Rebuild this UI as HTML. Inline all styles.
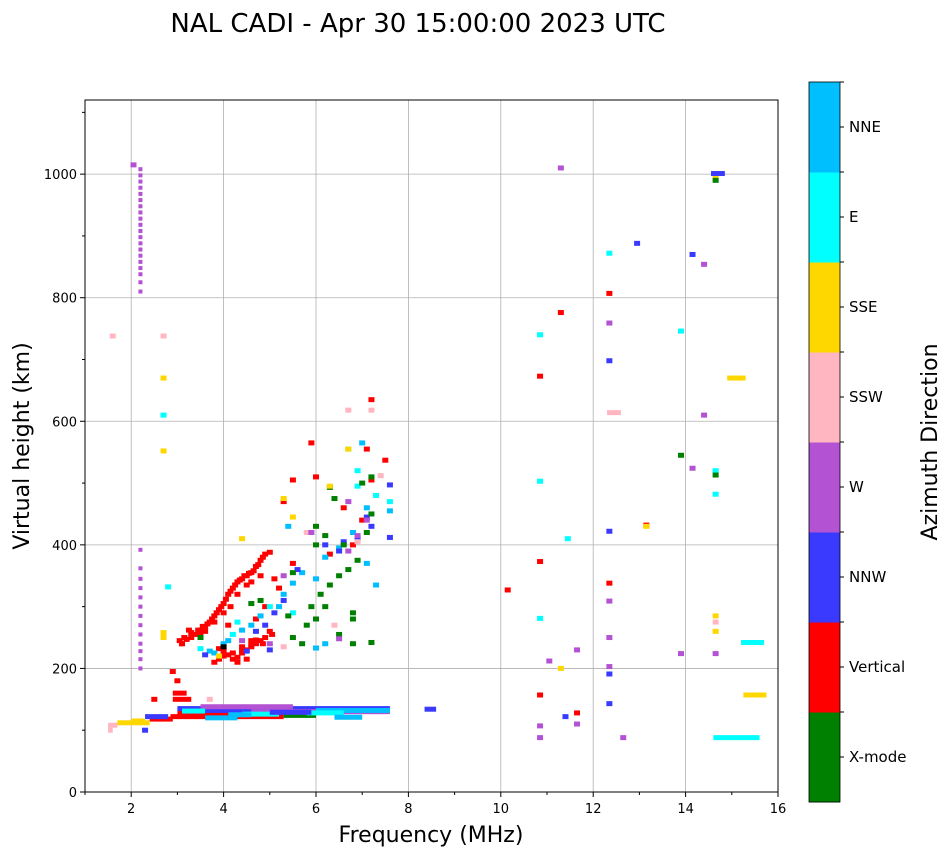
<!DOCTYPE html>
<html><head><meta charset="utf-8"><style>
body{margin:0;background:#fff;font-family:"Liberation Sans","DejaVu Sans",sans-serif}
svg text{font-family:"DejaVu Sans","Liberation Sans",sans-serif}
</style></head><body>
<svg id="chart" width="951" height="856" xmlns="http://www.w3.org/2000/svg">
<text x="418" y="32" font-size="26" text-anchor="middle">NAL CADI - Apr 30 15:00:00 2023 UTC</text>
<g id="grid"></g>
<g id="marks"></g>
<rect x="85" y="100" width="693" height="692" fill="none" stroke="#000" stroke-width="1"/>
<g id="axes"></g>
<text x="431" y="842" font-size="22" text-anchor="middle">Frequency (MHz)</text>
<text transform="translate(29,446) rotate(-90)" font-size="22" text-anchor="middle">Virtual height (km)</text>
<g id="cbar"></g>
<text transform="translate(937,442) rotate(-90)" font-size="22" text-anchor="middle">Azimuth Direction</text>
</svg>
<script>
const categories=["X-mode","Vertical","NNW","W","SSW","SSE","E","NNE"];
const catColors=["#008000","#ff0000","#3a3aff","#b452d4","#ffb6c1","#ffd700","#00ffff","#00bfff"];
const xTicks=[2,4,6,8,10,12,14,16];
const yTicks=[0,200,400,600,800,1000];
// segments: start freq, end freq, height, category
const segStart=[2.85,3.0,3.2,3.0,4.6,5.3,3.5,2.9,2.9,2.4,2.3,1.7,1.5,1.5,2.0,6.0,5.8,8.35,14.6,15.2,15.25,14.55,14.9,12.3,3.6,4.4,5.0,6.4,3.1,4.1];
const segEnd=[5.3,5.0,4.8,7.6,7.6,6.0,5.5,3.3,3.2,2.9,2.8,2.4,1.7,1.6,2.3,7.6,6.6,8.6,15.6,15.7,15.75,14.85,15.3,12.6,4.3,5.2,5.9,7.0,3.6,4.6];
const segHeight=[122,127,132,135,130,124,138,150,160,118,122,112,108,100,115,132,128,134,88,242,157,1001,670,614,120,126,129,121,131,125];
const segCat=[1,1,2,2,3,0,3,1,1,1,2,5,4,4,5,7,6,2,6,6,5,2,5,4,7,6,2,7,6,7];
// isolated points: freq, height, category
const ptFreq=[11.3,10.85,10.85,11.3,10.85,10.85,10.15,10.85,10.85,10.85,10.85,11.05,11.3,11.4,11.45,11.65,11.65,11.65,
12.35,12.35,12.35,12.35,12.35,12.35,12.35,12.35,12.35,12.35,12.35,12.65,12.95,13.15,13.15,13.9,13.9,13.9,14.15,14.15,14.4,14.4,14.65,14.65,14.65,14.65,14.65,14.65,14.65,14.65,14.65,
2.05,1.6,2.7,2.7,2.7,2.7,2.7,2.7,2.8,
3.05,3.15,3.3,3.45,3.6,3.7,3.8,3.9,4.0,4.1,4.2,4.3,4.4,4.5,4.6,4.7,4.8,4.9,5.0,3.3,3.6,3.8,4.0,4.3,4.6,4.8,3.8,3.9,4.0,4.2,4.4,4.5,4.6,4.7,4.8,4.9,5.0,4.3,4.5,3.1,3.5,4.1,4.6,4.4,4.2,5.2,5.5,5.5,6.0,5.9,6.6,6.8,7.0,7.2,7.5,7.1,7.2,5.3,6.3,4.7,4.9,5.1,2.9,3.0,2.5,
3.1,3.2,3.4,3.5,3.65,3.75,3.85,3.95,4.05,4.15,4.25,4.35,4.45,4.55,4.65,4.75,4.85,3.9,4.0,4.1,4.3,4.4,4.6,4.7,3.25,3.55,4.15,4.5,4.85,5.05,5.2,
3.5,3.7,4.0,4.2,4.4,4.6,4.8,5.0,5.3,5.5,5.7,6.0,6.2,6.5,6.8,7.1,7.3,7.6,7.6,7.0,6.9,6.2,6.0,4.3,3.8,4.1,5.5,5.4,5.8,6.7,7.3,7.1,6.9,2.3,
4.7,4.9,5.1,5.3,5.6,6.2,6.6,7.1,7.2,7.6,7.6,5.0,4.5,3.6,6.5,6.9,3.5,
5.5,5.7,5.8,5.9,6.0,6.1,6.3,6.5,6.7,6.9,7.1,7.2,7.0,6.8,6.8,6.5,7.2,6.8,6.4,6.3,7.2,6.6,5.5,5.4,6.0,6.2,6.2,6.0,4.6,4.8,5.3,
6.7,6.9,7.1,6.7,5.0,4.4,6.5,5.9,6.4,
6.7,7.2,7.4,6.9,5.3,3.7,5.5,
6.7,4.4,5.3,6.3,3.9,4.0];
const ptHeight=[1010,740,673,776,503,373,327,281,157,107,88,212,200,122,410,230,110,128,
872,807,759,698,422,338,309,250,203,191,143,88,888,432,430,746,545,224,870,524,854,610,993,990,520,513,482,285,275,260,224,
1015,738,738,670,610,552,258,250,332,
245,250,258,262,268,275,285,295,305,320,330,340,345,350,355,365,375,385,388,250,260,275,290,320,340,350,210,215,220,215,225,230,235,240,245,250,260,210,215,240,255,270,245,235,225,330,370,505,510,565,460,400,440,505,537,555,635,470,385,280,300,345,195,180,150,
240,247,255,262,272,280,290,300,312,325,335,343,350,354,358,368,380,232,228,222,218,230,238,246,262,268,300,335,240,255,300,
232,228,240,255,262,270,285,300,320,338,355,345,380,395,420,460,480,455,470,565,520,240,233,275,225,245,290,430,420,555,335,370,495,100,
260,270,290,310,360,400,405,445,430,412,497,230,228,222,390,410,250,
250,240,270,300,280,320,335,350,360,375,420,450,500,290,280,255,242,240,475,493,510,400,355,285,430,415,300,400,305,310,350,
390,415,440,470,240,245,248,420,270,
618,618,512,405,235,150,445,
555,410,475,495,220,235];
const ptCat=[3,6,1,1,6,1,1,6,1,3,3,3,5,2,6,3,3,1,
6,1,3,2,2,1,3,3,3,2,2,3,2,1,5,6,0,3,2,3,3,3,5,0,6,0,6,5,4,5,3,
3,4,4,5,6,5,5,5,6,
1,1,1,1,1,1,1,1,1,1,1,1,1,1,1,1,1,1,1,1,1,1,1,1,1,1,1,1,1,1,1,1,1,1,1,1,1,1,1,1,1,1,1,1,1,1,1,1,1,1,1,1,1,1,1,1,1,1,1,1,1,1,1,1,
1,1,1,1,1,1,1,1,1,1,1,1,1,1,1,1,1,1,1,1,1,1,1,1,1,1,1,1,1,1,1,
7,6,7,7,6,7,7,7,6,7,7,7,7,7,7,7,7,6,7,6,7,6,7,7,6,7,7,6,7,4,6,7,7,6,
2,2,2,2,2,2,2,2,2,2,2,2,2,2,2,2,2,
0,0,0,0,0,0,0,0,0,0,0,0,0,0,0,0,0,0,0,0,0,0,0,0,0,0,0,0,0,0,0,
3,3,3,3,3,3,3,3,3,
4,4,4,4,4,4,4,
5,5,5,5,5,5];
// W column at 2.2 MHz
const colHeights=[1008,998,988,978,968,958,948,938,928,918,908,898,888,878,868,858,848,838,825,810,392,362,345,330,315,300,285,270,255,240,228,215,200];
const colFreq=2.2;

const NS="http://www.w3.org/2000/svg";
const X0=85,X1=778,Y0=792,Y1=100,FMIN=1,FMAX=16,HMAX=1120;
const xs=f=>X0+(f-FMIN)/(FMAX-FMIN)*(X1-X0);
const ys=h=>Y0-h/HMAX*(Y0-Y1);
function mk(tag,attrs,parent){const e=document.createElementNS(NS,tag);for(const k in attrs)e.setAttribute(k,attrs[k]);parent.appendChild(e);return e;}
const grid=document.getElementById('grid'),axes=document.getElementById('axes'),marks=document.getElementById('marks'),cbar=document.getElementById('cbar');
xTicks.forEach(t=>{const x=xs(t);
 if(t<16){const g=mk('line',{x1:x,x2:x,y1:Y1,y2:Y0,stroke:'#b0b0b0','stroke-width':0.8},grid);}
 mk('line',{x1:x,x2:x,y1:Y0,y2:Y0+5,stroke:'#000'},axes);
 const l=mk('text',{x:x,y:Y0+21,'font-size':13,'text-anchor':'middle'},axes);l.textContent=t;
 
 });
for(let f=1;f<=15;f+=2){const x=xs(f);mk('line',{x1:x,x2:x,y1:Y0,y2:Y0+3,stroke:'#000'},axes);}
yTicks.forEach(t=>{const y=ys(t);
 if(t>0){const g=mk('line',{x1:X0,x2:X1,y1:y,y2:y,stroke:'#b0b0b0','stroke-width':0.8},grid);}
 mk('line',{x1:X0-5,x2:X0,y1:y,y2:y,stroke:'#000'},axes);
 const l=mk('text',{x:X0-8,y:y+5,'font-size':13,'text-anchor':'end'},axes);l.textContent=t;
 
 });
for(let h=100;h<=1100;h+=200){const y=ys(h);mk('line',{x1:X0-3,x2:X0,y1:y,y2:y,stroke:'#000'},axes);}
const MW=0.13;
segStart.forEach((s,i)=>{const x=xs(s),w=Math.max(3,xs(segEnd[i])-x);
 const r=mk('rect',{x:x,y:ys(segHeight[i])-2.5,width:w,height:5,fill:catColors[segCat[i]]},marks);
 
 });
ptFreq.forEach((f,i)=>{
 const r=mk('rect',{x:xs(f-MW/2),y:ys(ptHeight[i])-2.5,width:xs(f+MW/2)-xs(f-MW/2),height:5,fill:catColors[ptCat[i]]},marks);
 
 });
colHeights.forEach(h=>{
 const r=mk('rect',{x:xs(colFreq)-2,y:ys(h)-2,width:4,height:4,fill:catColors[3]},marks);
 
 });
const CX=809,CW=31,CT=82,CB=802,CH=(CB-CT)/categories.length;
categories.forEach((c,i)=>{const y=CB-(i+1)*CH;
 const r=mk('rect',{x:CX,y:y,width:CW,height:CH+0.5,fill:catColors[i]},cbar);
 
 
 mk('line',{x1:CX+CW,x2:CX+CW+4,y1:y,y2:y,stroke:'#000'},cbar);
 mk('line',{x1:CX+CW,x2:CX+CW+4,y1:y+CH/2,y2:y+CH/2,stroke:'#000'},cbar);
 const l=mk('text',{x:849,y:y+CH/2+5,'font-size':15},cbar);l.textContent=c;
 
 });
mk('rect',{x:CX,y:CT,width:CW,height:CB-CT,fill:'none',stroke:'#000','stroke-width':0.8},cbar);
</script>
</body></html>
